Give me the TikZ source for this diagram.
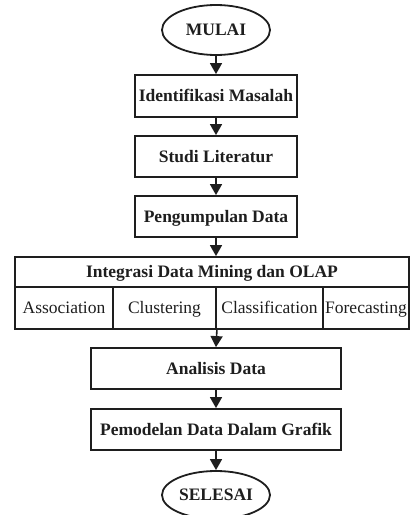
\documentclass[tikz,border=0pt]{standalone}
\usepackage{fontspec}
\setmainfont{Liberation Serif}
\usetikzlibrary{shapes.geometric,arrows.meta}
\definecolor{ink}{HTML}{1E1E1E}
\tikzset{
  txt/.style={text=ink, font=\fontsize{17.5}{19}\selectfont, text height=11.6pt, text depth=0pt},
  box/.style={txt, draw=ink, line width=1.8pt, rectangle, inner sep=0pt, font=\fontsize{17.5}{19}\selectfont\bfseries},
  cell/.style={txt, draw=ink, line width=1.8pt, rectangle, inner sep=0pt},
  term/.style={txt, draw=ink, line width=1.8pt, ellipse, inner sep=0pt, font=\fontsize{17.5}{19}\selectfont\bfseries},
  arr/.style={draw=ink, line width=1.6pt, -{Triangle[width=12pt,length=11pt]}}
}
\begin{document}
\begin{tikzpicture}[x=1pt,y=-1pt]
\useasboundingbox (0,0) rectangle (410,515);
\node[term, minimum width=108pt, minimum height=50pt] (mulai) at (216,30) {MULAI};
\node[box, minimum width=162pt, minimum height=42pt] (ident) at (216,96) {Identifikasi Masalah};
\node[box, minimum width=162pt, minimum height=41pt] (studi) at (216,156.5) {Studi Literatur};
\node[box, minimum width=162pt, minimum height=41pt] (peng) at (216,216.5) {Pengumpulan Data};
\node[box, minimum width=394pt, minimum height=30pt] (integ) at (212,272) {Integrasi Data Mining dan OLAP};
\node[cell, minimum width=98pt, minimum height=42pt] (c1) at (64,308) {Association};
\node[cell, minimum width=103pt, minimum height=42pt] (c2) at (164.5,308) {Clustering};
\node[cell, minimum width=107pt, minimum height=42pt] (c3) at (269.5,308) {Classification};
\node[cell, minimum width=86pt, minimum height=42pt] (c4) at (366,308) {Forecasting};
\node[box, minimum width=250pt, minimum height=41pt] (anal) at (216,368.5) {Analisis Data};
\node[box, minimum width=250pt, minimum height=41pt] (pemod) at (216,429.5) {Pemodelan Data Dalam Grafik};
\node[term, minimum width=108pt, minimum height=48pt] (selesai) at (216,495) {SELESAI};
\draw[arr] (mulai) -- (ident);
\draw[arr] (ident) -- (studi);
\draw[arr] (studi) -- (peng);
\draw[arr] (peng.south) -- (peng.south |- integ.north);
\draw[arr] (c2.south east) -- (anal.north);
\draw[arr] (anal) -- (pemod);
\draw[arr] (pemod) -- (selesai);
\end{tikzpicture}
\end{document}
